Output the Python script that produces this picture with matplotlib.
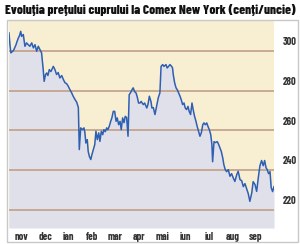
import matplotlib
matplotlib.use("Agg")
import matplotlib.pyplot as plt
from matplotlib.patches import Rectangle

# month position (0 = start of nov) and price in cents/ounce
pos = [-0.04, 0.00, 0.04, 0.12, 0.17, 0.26, 0.30, 0.36, 0.41, 0.46,
       0.50, 0.57, 0.64, 0.71, 0.78, 0.85, 0.93, 1.00, 1.07, 1.14,
       1.21, 1.28, 1.35, 1.42, 1.46, 1.52, 1.57, 1.62, 1.68, 1.75,
       1.85, 1.92, 1.99, 2.06, 2.13, 2.21, 2.28, 2.35, 2.42, 2.49,
       2.56, 2.63, 2.70, 2.78, 2.85, 2.92, 2.96, 3.02, 3.10, 3.16,
       3.20, 3.24, 3.30, 3.34, 3.39, 3.45, 3.50, 3.56, 3.62, 3.67,
       3.73, 3.79, 3.84, 3.90, 3.96, 4.01, 4.07, 4.13, 4.18, 4.24,
       4.30, 4.35, 4.41, 4.47, 4.53, 4.58, 4.64, 4.70, 4.75, 4.81,
       4.87, 4.92, 4.98, 5.04, 5.09, 5.15, 5.21, 5.26, 5.32, 5.38,
       5.43, 5.49, 5.55, 5.60, 5.69, 5.75, 5.84, 5.89, 5.95, 6.02,
       6.06, 6.12, 6.19, 6.26, 6.33, 6.40, 6.45, 6.52, 6.57, 6.66,
       6.71, 6.77, 6.83, 6.90, 6.94, 6.97, 7.03, 7.09, 7.14, 7.20,
       7.26, 7.31, 7.37, 7.43, 7.48, 7.54, 7.60, 7.65, 7.71, 7.77,
       7.82, 7.88, 7.94, 7.99, 8.05, 8.11, 8.17, 8.23, 8.28, 8.34,
       8.40, 8.45, 8.51, 8.57, 8.62, 8.65, 8.71, 8.77, 8.85, 8.91,
       8.96, 9.02, 9.08, 9.13, 9.19, 9.25, 9.32, 9.39, 9.46, 9.53,
       9.60, 9.68, 9.74, 9.82, 9.89, 9.96, 10.03, 10.10, 10.17, 10.24,
       10.32, 10.38, 10.46, 10.53, 10.60, 10.67, 10.74, 10.81, 10.87, 10.93,
       10.98, 11.04, 11.10, 11.15, 11.21, 11.27]
price = [304.0, 298.1, 294.0, 294.8, 295.6, 298.1, 299.6, 301.5, 302.7, 304.8,
         302.3, 303.2, 297.3, 299.0, 298.1, 297.3, 299.0, 296.5, 298.1, 294.8,
         297.3, 295.6, 294.0, 285.6, 279.7, 283.1, 283.9, 282.6, 285.6, 284.6,
         287.2, 285.6, 283.1, 284.1, 281.4, 282.6, 280.6, 279.0, 278.5, 277.2,
         275.5, 274.0, 272.2, 270.5, 269.2, 266.5, 245.4, 256.3, 255.4, 256.3,
         253.9, 248.7, 250.4, 244.5, 242.0, 240.4, 242.9, 245.4, 247.9, 254.6,
         250.4, 253.8, 249.5, 254.6, 252.9, 255.4, 254.4, 256.3, 255.4, 257.1,
         259.6, 261.3, 264.6, 264.6, 259.6, 261.3, 257.9, 259.6, 255.4, 261.3,
         258.9, 262.1, 261.5, 252.1, 273.0, 274.0, 275.5, 276.4, 274.5, 273.9,
         272.0, 268.8, 268.8, 269.6, 268.0, 268.8, 266.3, 268.0, 272.2, 269.5,
         266.3, 266.5, 263.0, 267.1, 271.4, 273.9, 287.2, 288.1, 287.2, 288.1,
         286.4, 287.2, 288.1, 287.2, 286.4, 283.1, 278.9, 276.4, 275.5, 273.9,
         272.2, 270.5, 268.0, 268.8, 266.3, 265.5, 267.1, 264.6, 263.0, 268.8,
         265.5, 262.1, 259.6, 257.1, 254.6, 252.1, 253.9, 257.9, 258.8, 257.9,
         258.8, 257.1, 255.4, 252.9, 247.9, 239.3, 249.4, 248.9, 249.4, 247.9,
         246.4, 244.5, 241.4, 237.8, 235.3, 234.3, 235.3, 232.0, 233.3, 231.2,
         229.4, 232.8, 234.5, 230.3, 229.8, 226.8, 228.3, 225.8, 223.3, 219.4,
         223.6, 229.3, 227.8, 224.4, 231.3, 237.3, 239.9, 237.3, 239.9, 236.3,
         235.3, 233.3, 234.3, 226.3, 224.3, 226.8]

months = ["nov", "dec", "ian", "feb", "mar", "apr", "mai", "iun", "iul", "aug", "sep"]
yticks = [300, 280, 260, 240, 220]
grid_levels = [295, 275, 255, 235, 215]

fig = plt.figure(figsize=(3.0, 2.44), dpi=100)
ax = fig.add_axes([9/300, 1 - 228/244, 265/300, 207/244])
ax.set_facecolor("#f8efd3")

ymin, ymax = 206, 310
ax.fill_between(pos, price, ymin, color="#dfe0e9", lw=0, zorder=1)
for g in grid_levels:
    ax.axhline(g, color="#c4a58e", lw=1.3, zorder=2)
ax.plot(pos, price, color="#2f5fb3", lw=1.1, zorder=3)

ax.set_xlim(-0.04, 11.27)
ax.set_ylim(ymin, ymax)
for s in ax.spines.values():
    s.set_visible(False)

cond = ["Barlow Condensed", "DejaVu Sans"]
tick_font = dict(family=cond, weight=700, size=7.5)
ax.set_xticks([i + 0.5 for i in range(len(months))])
ax.set_xticklabels(months, **tick_font, color="#333333")
ax.yaxis.tick_right()
ax.set_yticks(yticks)
ax.set_yticklabels([str(t) for t in yticks], **tick_font, color="#333333")
ax.tick_params(axis="both", length=0)
ax.tick_params(axis="x", pad=3)
ax.tick_params(axis="y", pad=6)

fig.add_artist(Rectangle((7/300, 1 - 242/244), 291/300, 222/244,
                         transform=fig.transFigure, fill=False,
                         ec="#c8c8c8", lw=1))

fig.text(0.5, 1 - 10/244, "Evoluția prețului cuprului la Comex New York (cenți/uncie)",
         ha="center", va="center", fontsize=9.5, weight=800,
         family=cond, color="#111111")

fig.savefig("out.png", dpi=100)
